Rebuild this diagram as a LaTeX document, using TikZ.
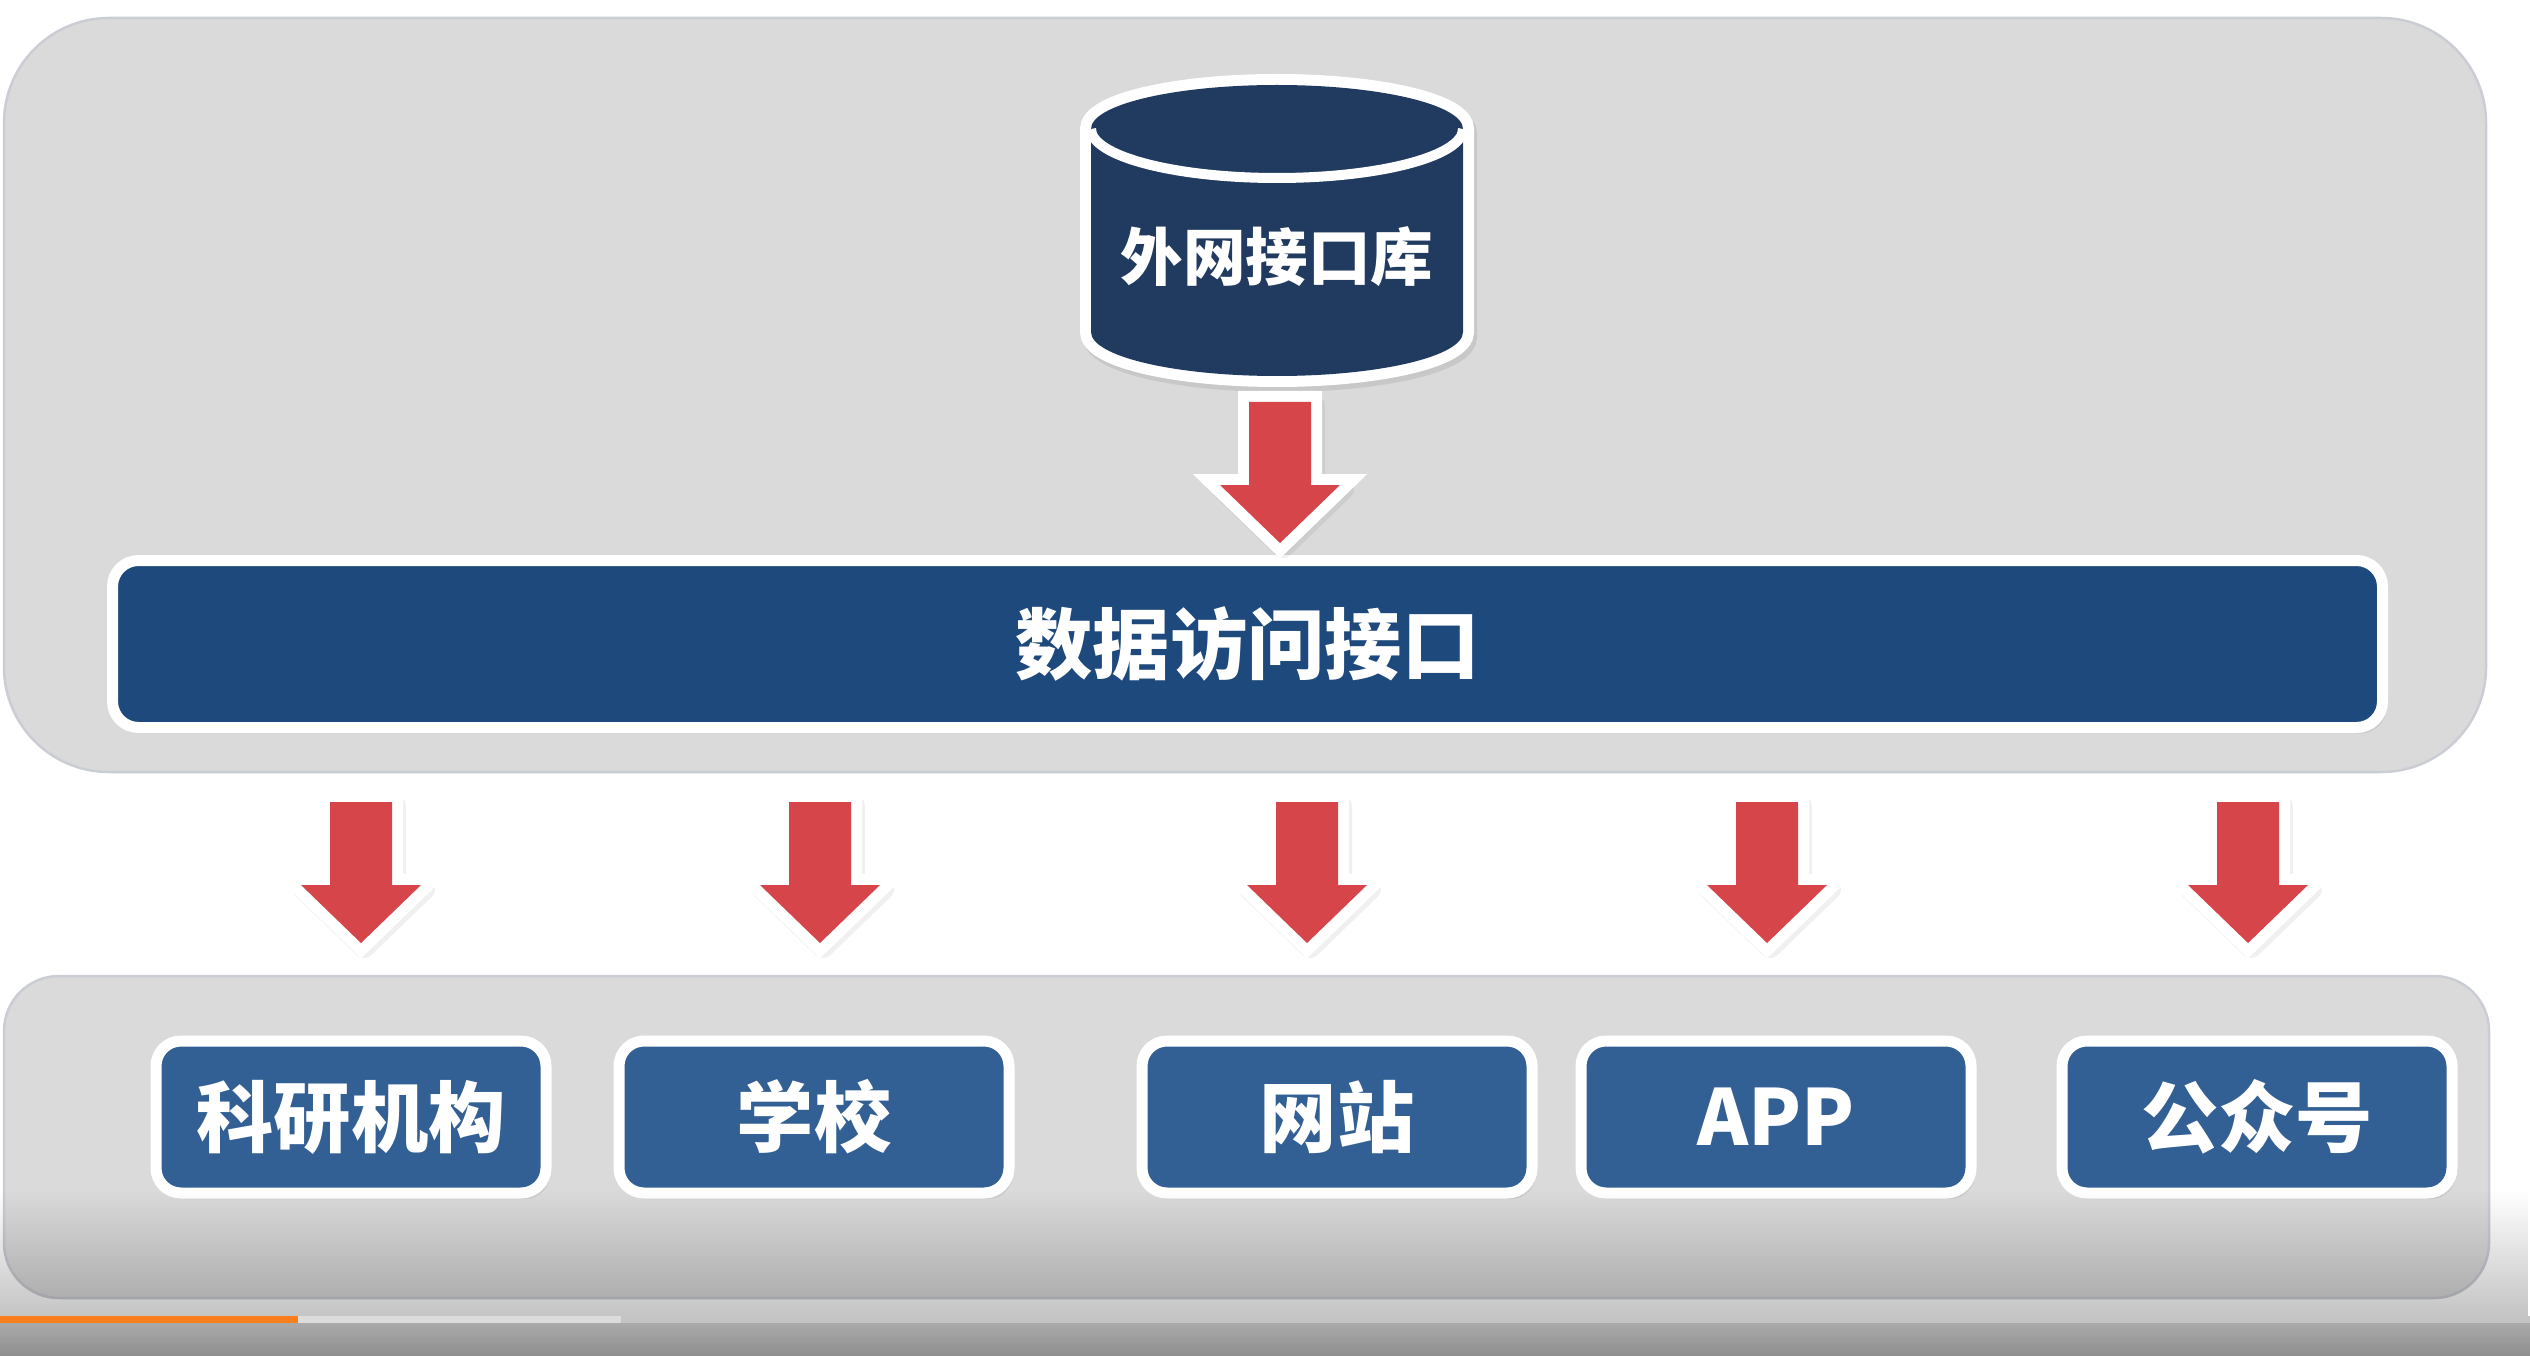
\documentclass[tikz,border=0pt]{standalone}
\usepackage{fontspec}
\newfontfamily\cjk{Noto Sans CJK SC}
\usetikzlibrary{shadows,fadings}
\definecolor{panelgray}{RGB}{218,218,218}
\definecolor{paneledge}{RGB}{202,205,212}
\definecolor{dbnavy}{RGB}{32,58,96}
\definecolor{barblue}{RGB}{30,73,125}
\definecolor{boxblue}{RGB}{51,96,148}
\definecolor{arrowred}{RGB}{213,69,74}
\definecolor{progorange}{RGB}{250,125,30}
\definecolor{proglight}{RGB}{220,220,220}
\definecolor{progrest}{RGB}{196,196,196}
\tikzfading[name=fadedown, top color=transparent!100, bottom color=transparent!0]
\newcommand\blockarrow[1]{%
  \fill[arrowred, shift={(#1)},
    preaction={draw=black, opacity=0.06, line width=2.2mm, line join=round,
      transform canvas={shift={(0.3mm,-0.4mm)}}},
    preaction={draw=white, line width=2.2mm, line join=miter}]
    (-31,0) -- (31,0) -- (31,83) -- (60,83) -- (0,141) -- (-60,83) -- (-31,83) -- cycle;}
\begin{document}
\begin{tikzpicture}[x=0.1mm,y=-0.1mm,
  panel/.style={fill=panelgray, draw=paneledge, line width=0.25mm, rounded corners=#1},
  whitetext/.style={text=white, inner sep=0pt},
  bigtext/.style={whitetext, font=\cjk\bfseries\fontsize{22pt}{24pt}\selectfont},
  dbtext/.style={whitetext, font=\cjk\bfseries\fontsize{17.8pt}{20pt}\selectfont},
  softshadow/.style={drop shadow={opacity=0.15, shadow xshift=0.4mm, shadow yshift=-0.6mm}},
  apibar/.style={bigtext, fill=barblue, draw=white, line width=1.1mm, rounded corners=2.6mm,
    minimum width=227mm, minimum height=16.7mm, softshadow},
  appbox/.style={bigtext, fill=boxblue, draw=white, line width=1.1mm, rounded corners=2.5mm,
    minimum width=39mm, minimum height=15.2mm, softshadow}
]
\useasboundingbox (0,0) rectangle (2530,1356);
\fill[white] (0,0) rectangle (2530,1356);

% panels
\path[panel=10.5mm] (4,18) rectangle (2486,772);
\path[panel=5.5mm] (4,976) rectangle (2489,1298);

% database cylinder
\fill[dbnavy,
  preaction={draw=black, opacity=0.08, line width=2.2mm,
    transform canvas={shift={(0.3mm,-0.5mm)}}},
  preaction={draw=white, line width=2.2mm}]
  (1091,129) -- (1091,332) arc[start angle=180, end angle=0, x radius=186, y radius=44]
  -- (1463,129) arc[start angle=0, end angle=-180, x radius=186, y radius=44] -- cycle;
\draw[white, line width=1.0mm] (1091,129) arc[start angle=180, end angle=0, x radius=186, y radius=49];
\node[dbtext] (db) at (1277,257) {外网接口库};

% data access interface bar
\node[apibar] (api) at (1247.5,644) {数据访问接口};

% client boxes
\node[appbox] (b1) at (351,1117) {科研机构};
\node[appbox] (b2) at (814,1117) {学校};
\node[appbox] (b3) at (1337,1117) {网站};
\node[appbox] (b4) at (1776,1117) {APP};
\node[appbox] (b5) at (2257,1117) {公众号};

% block arrows
\coordinate (a0) at (1280,402);
\coordinate (a1) at (361,802);
\coordinate (a2) at (820,802);
\coordinate (a3) at (1307,802);
\coordinate (a4) at (1767,802);
\coordinate (a5) at (2248,802);
\blockarrow{a0}
\blockarrow{a1}
\blockarrow{a2}
\blockarrow{a3}
\blockarrow{a4}
\blockarrow{a5}

% player overlay and progress bar
\fill[black, opacity=0.23, path fading=fadedown] (0,1190) rectangle (2530,1316);
\fill[progorange] (0,1316) rectangle (298,1323);
\fill[proglight] (298,1316) rectangle (621,1323);
\fill[progrest] (621,1316) rectangle (2530,1323);
\shade[top color={rgb,255:red,170;green,170;blue,170}, bottom color={rgb,255:red,142;green,142;blue,142}] (0,1323) rectangle (2530,1356);
\end{tikzpicture}
\end{document}
